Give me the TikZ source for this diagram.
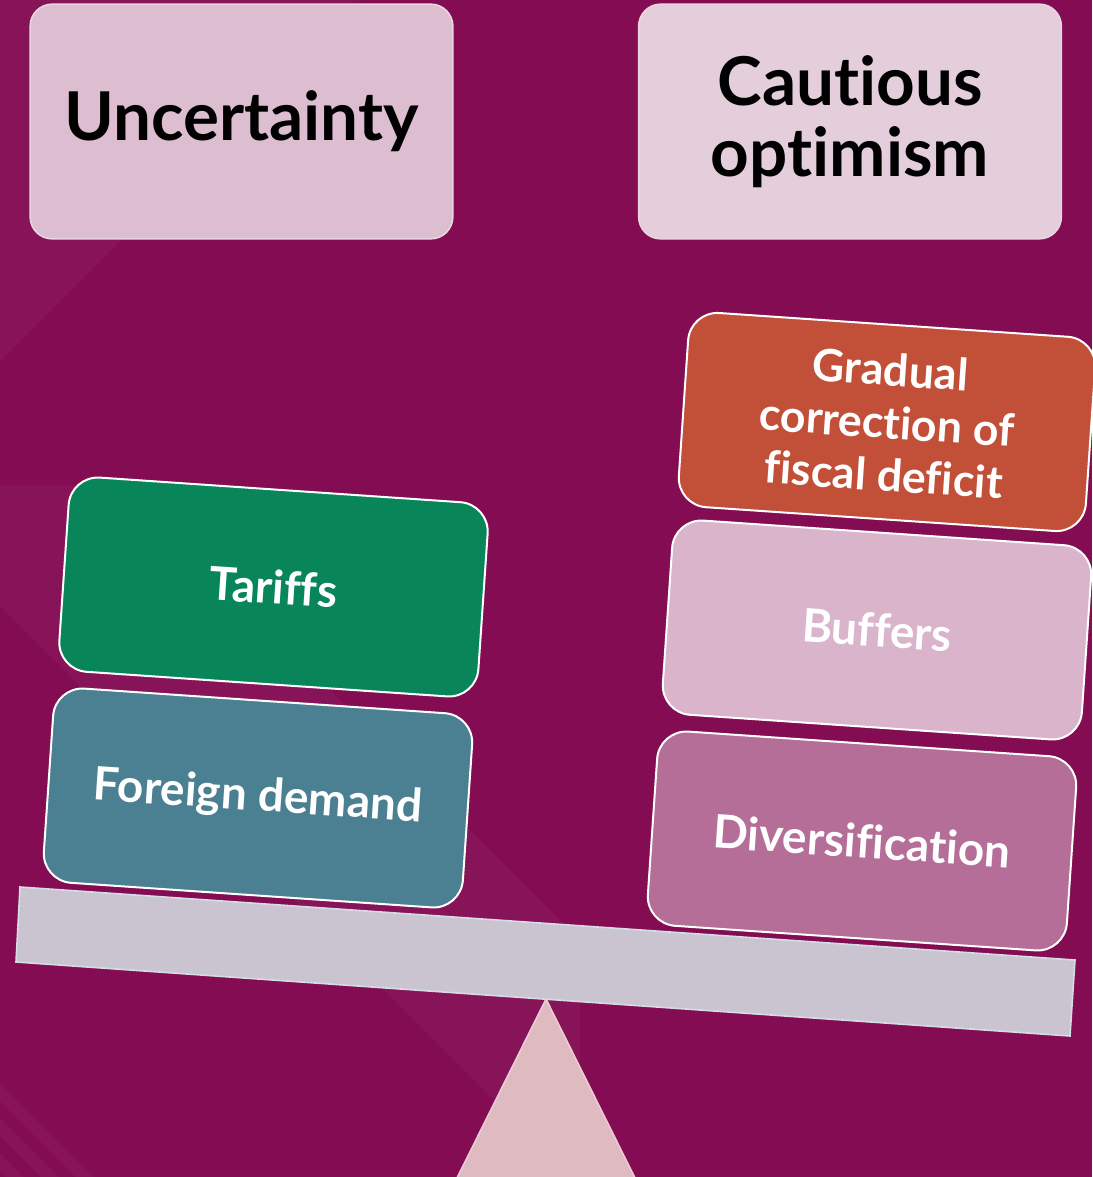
\documentclass[tikz,border=0pt]{standalone}
\usepackage{fontspec}
\setmainfont{Lato}[Ligatures={NoCommon}]

\definecolor{plumbg}{HTML}{830C52}
\definecolor{headpink}{HTML}{DDBDD0}
\definecolor{headlight}{HTML}{E4CEDB}
\definecolor{headedge}{HTML}{E9D6E1}
\definecolor{tariffgreen}{HTML}{08865A}
\definecolor{demandteal}{HTML}{4B8092}
\definecolor{deficitred}{HTML}{C24F38}
\definecolor{bufferpink}{HTML}{D9B4CA}
\definecolor{diversmauve}{HTML}{B46E98}
\definecolor{beamgrey}{HTML}{C9C4D0}
\definecolor{beamedge}{HTML}{D6DCE6}
\definecolor{fulcrumpink}{HTML}{DFBAC0}
\definecolor{fulcrumedge}{HTML}{E9CED3}

\tikzset{every picture/.style={line width=0.75pt}}
\tikzset{
  headbox/.style={draw=headedge, line width=1.2pt, rounded corners=16.5pt,
    minimum width=317pt, minimum height=176pt, inner sep=0pt, align=center,
    font=\fontsize{50.5}{53}\selectfont\bfseries, text=black},
  weightbox/.style={draw=white, line width=1.5pt, rounded corners=22pt,
    minimum width=315pt, minimum height=146pt, inner sep=0pt, align=center,
    rotate=-3.9, font=\fontsize{34.5}{40}\selectfont\bfseries, text=white},
  faint/.style={fill=white, fill opacity=0.035}
}

\begin{document}
\begin{tikzpicture}[x=0.75pt,y=0.75pt,yscale=-1,xscale=1]
\useasboundingbox (0,0) rectangle (1092,1177);

%Background
\fill[plumbg] (0,0) rectangle (1092,1177);
\fill[faint] (0,0) -- (361,0) -- (0,361) -- cycle;
\fill[faint] (0,485) -- (125,485) -- (580,940) -- (580,1177) -- (571,1177) -- (0,606) -- cycle;
\fill[faint] (0,1083) -- (94,1177) -- (76,1177) -- (0,1101) -- cycle;
\fill[faint] (0,1118) -- (59,1177) -- (41,1177) -- (0,1136) -- cycle;
\fill[faint] (0,1153) -- (24,1177) -- (6,1177) -- (0,1171) -- cycle;

%Shape: Triangle (fulcrum)
\draw[draw=fulcrumedge, fill=fulcrumpink, line width=1.2pt] (546,999) -- (636,1180) -- (456,1180) -- cycle;

%Shape: Beam
\coordinate (beamNW) at (20,887);
\coordinate (beamNE) at (1075,960);
\coordinate (beamSE) at (1070,1036);
\coordinate (beamSW) at (16,962);
\draw[draw=beamedge, fill=beamgrey, line width=1.2pt] (beamNW) -- (beamNE) -- (beamSE) -- (beamSW) -- cycle;

% Header boxes
\draw (241.5,121.5) node [headbox, fill=headpink] (uncert) {Uncertainty};
\draw (850,121.5) node [headbox, fill=headlight] (optim) {Cautious\\optimism};

% Left pan
\draw (273.5,587) node [weightbox, fill=tariffgreen] (tariffs) {Tariffs};
\draw (258,798) node [weightbox, fill=demandteal] (demand) {Foreign demand};

% Right pan
\draw (887,422) node [weightbox, fill=deficitred, minimum width=306pt,
  font=\fontsize{33.5}{39.5}\selectfont\bfseries] (deficit) {Gradual\\correction of\\fiscal deficit};
\draw (877,630) node [weightbox, fill=bufferpink] (buffers) {Buffers};
\draw (862,841) node [weightbox, fill=diversmauve] (divers) {Diversification};

\end{tikzpicture}
\end{document}
